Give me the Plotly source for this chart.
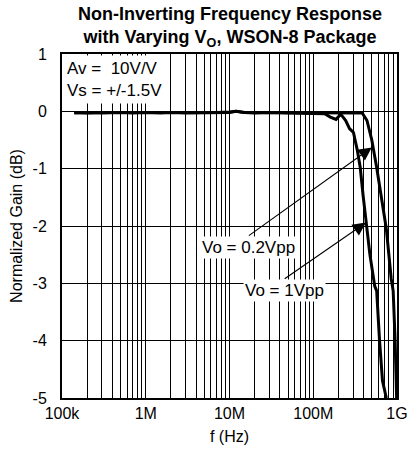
import plotly.graph_objects as go

# ---- data ----
freq_1vpp = [1.4e5, 2e5, 3e5, 5e5, 7e5, 1e6, 1.5e6, 2e6, 3e6, 5e6, 7e6, 1e7, 1.2e7,
             1.5e7, 2e7, 3e7, 5e7, 7e7, 1e8, 1.37e8, 1.6e8, 1.87e8, 2.13e8, 2.44e8,
             2.71e8, 3.02e8, 3.36e8, 3.64e8, 3.94e8, 4.38e8, 4.75e8, 5.42e8, 5.72e8,
             6.19e8, 6.71e8, 7.46e8]
gain_1vpp = [-0.03, -0.02, -0.03, -0.02, -0.03, -0.02, -0.03, -0.02, -0.03, -0.03,
             -0.02, -0.02, 0.0, -0.02, -0.03, -0.02, -0.03, -0.03, -0.03, -0.04,
             -0.10, -0.14, -0.05, -0.16, -0.30, -0.37, -0.68, -0.98, -1.47, -2.05,
             -2.50, -3.05, -3.13, -4.00, -4.70, -5.00]

freq_02vpp = [1.4e5, 2e5, 3e5, 5e5, 7e5, 1e6, 1.5e6, 2e6, 3e6, 5e6, 7e6, 1e7, 1.2e7,
              1.5e7, 2e7, 3e7, 5e7, 7e7, 1e8, 1.5e8, 2e8, 2.5e8, 3e8, 3.84e8, 4.38e8,
              5.0e8, 5.72e8, 6.53e8, 7.46e8, 8.53e8, 9.0e8, 9.5e8, 9.9e8]
gain_02vpp = [-0.02, -0.03, -0.02, -0.02, -0.03, -0.02, -0.02, -0.03, -0.02, -0.03,
              -0.02, -0.01, 0.0, -0.02, -0.02, -0.03, -0.02, -0.02, -0.02, -0.02,
              -0.02, -0.02, -0.02, -0.03, -0.16, -0.50, -0.98, -1.50, -2.05, -2.92,
              -3.13, -4.00, -5.00]

x_major = [1e5, 1e6, 1e7, 1e8, 1e9]
x_major_labels = ["100k", "1M", "10M", "100M", "1G"]
y_ticks = [1, 0, -1, -2, -3, -4, -5]

# all grid positions (1..9 per decade)
x_tickvals = []
x_ticktext = []
for d in range(5, 10):
    for m in range(1, 10):
        v = m * 10.0 ** d
        if v > 1e9 * 1.0001:
            break
        x_tickvals.append(v)
        x_ticktext.append(x_major_labels[x_major.index(v)] if m == 1 else "")

FONT = "Arial, Liberation Sans, sans-serif"

fig = go.Figure()
fig.add_trace(go.Scatter(x=freq_1vpp, y=gain_1vpp, mode="lines",
                         line=dict(color="black", width=3), name="Vo = 1Vpp"))
fig.add_trace(go.Scatter(x=freq_02vpp, y=gain_02vpp, mode="lines",
                         line=dict(color="black", width=3), name="Vo = 0.2Vpp"))

fig.update_layout(
    width=418, height=459,
    margin=dict(l=62, r=10, t=54, b=61),
    paper_bgcolor="white", plot_bgcolor="white",
    showlegend=False,
    font=dict(family=FONT, color="black", size=16),
)
fig.update_xaxes(
    type="log", range=[5, 9],
    tickvals=x_tickvals, ticktext=x_ticktext,
    showgrid=True, gridcolor="black", gridwidth=1,
    showline=True, linecolor="black", linewidth=2, mirror=True,
    ticks="", tickfont=dict(size=16),
    title=dict(text="f (Hz)", font=dict(size=16), standoff=10),
    zeroline=False,
)
fig.update_yaxes(
    range=[-5, 1], tickvals=y_ticks, ticktext=[str(v) for v in y_ticks],
    showgrid=True, gridcolor="black", gridwidth=1,
    showline=True, linecolor="black", linewidth=2, mirror=True,
    ticks="", tickfont=dict(size=16), ticklabelstandoff=10,
    title=dict(text="Normalized Gain (dB)", font=dict(size=16), standoff=6),
    zeroline=False,
)

ann = []
# title (two lines in one text)
ann.append(dict(xref="paper", yref="paper", x=0.5, y=1.0, yshift=52, xanchor="center", yanchor="top",
                text="<b>Non-Inverting Frequency Response<br>with Varying V<sub>O</sub>, WSON-8 Package</b>",
                showarrow=False, font=dict(size=18, family=FONT)))
# conditions box
ann.append(dict(xref="paper", yref="paper", x=0.003, y=0.997, xanchor="left", yanchor="top",
                text="Av =  10V/V<br>Vs = +/-1.5V", showarrow=False, align="left",
                bgcolor="white", borderpad=3, font=dict(size=17, family=FONT)))
# labels with arrows (tail at top-centre of the label box)
ann.append(dict(xref="x", yref="y", x=8.699, y=-0.63, axref="x", ayref="y", ax=7.231, ay=-2.168,
                xanchor="center", yanchor="top",
                text="Vo = 0.2Vpp", showarrow=True, arrowhead=2, arrowsize=2.4, arrowwidth=1.1,
                arrowcolor="black", standoff=0, startstandoff=0,
                bgcolor="white", borderpad=1, font=dict(size=17, family=FONT)))
ann.append(dict(xref="x", yref="y", x=8.630, y=-1.94, axref="x", ayref="y", ax=7.659, ay=-2.92,
                xanchor="center", yanchor="top",
                text="Vo = 1Vpp", showarrow=True, arrowhead=2, arrowsize=2.4, arrowwidth=1.1,
                arrowcolor="black", standoff=0, startstandoff=0,
                bgcolor="white", borderpad=1, font=dict(size=17, family=FONT)))
fig.update_layout(annotations=ann)

fig.write_html("out.html")
